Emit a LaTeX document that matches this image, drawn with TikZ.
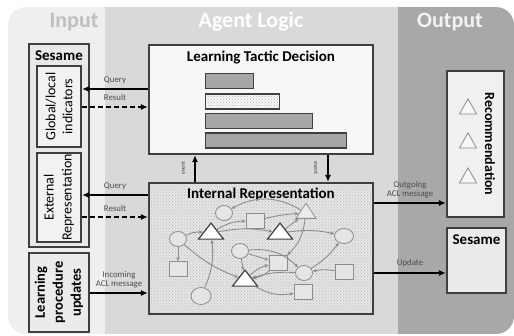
\documentclass[tikz,border=0pt]{standalone}
\usepackage{fontspec}
\setmainfont{Carlito}
\usetikzlibrary{arrows.meta,positioning,patterns,shapes.geometric}
\definecolor{inbg}{HTML}{EFEFEF}
\definecolor{agbg}{HTML}{D9D9D9}
\definecolor{outbg}{HTML}{A8A8A8}
\definecolor{edge}{HTML}{3F3F3F}
\definecolor{netgray}{HTML}{8C8C8C}

\begin{document}
\begin{tikzpicture}[x=1pt,y=-1pt,
  hdr/.style={font=\fontsize{22}{22}\selectfont\bfseries},
  box/.style={draw=edge,line width=2.2pt,inner sep=0pt,fill=#1},
  box/.default=black!8,
  ttl/.style={font=\fontsize{15}{15}\selectfont\bfseries},
  bar/.style={draw=edge,line width=1.4pt,fill=black!35,minimum height=15,
    inner sep=0pt,anchor=west},
  lbl/.style={font=\fontsize{8.8}{9}\selectfont,text=black!70,inner sep=0pt},
  evlbl/.style={font=\fontsize{6}{6}\selectfont,text=black!70,inner sep=0pt},
  flow/.style={line width=1.6pt,-{Latex[length=7pt,width=6pt]}},
  flowd/.style={flow,dash pattern=on 5pt off 3pt},
  netc/.style={ellipse,draw=netgray,line width=0.8pt,fill=black!10,
    minimum width=17,minimum height=15,inner sep=0pt},
  nets/.style={rectangle,draw=netgray,line width=0.8pt,fill=black!10,
    minimum width=18,minimum height=15,inner sep=0pt},
  nett/.style={isosceles triangle,isosceles triangle stretches,
    shape border rotate=90,draw=edge,line width=1.2pt,fill=white,
    minimum width=25,minimum height=16,inner sep=0pt},
  rect/.style={nett,draw=netgray,line width=0.8pt,fill=black!8,
    minimum width=20,minimum height=15},
  netarr/.style={draw=netgray,line width=0.9pt,
    -{Stealth[length=4pt,width=3.5pt]}}
]
\useasboundingbox (0,0) rectangle (514,335);

% three columns
\begin{scope}
\clip[rounded corners=18pt] (8,7) rectangle (514,334);
\fill[inbg] (8,7) rectangle (105,334);
\fill[agbg] (105,7) rectangle (398,334);
\fill[outbg] (398,7) rectangle (514,334);
\end{scope}
\node[hdr,text=black!25] (hin) at (74,22) {Input};
\node[hdr,text=white] (hag) at (251,22) {Agent Logic};
\node[hdr,text=black!5] (hout) at (450,22) {Output};

% input side
\node[box=black!9,minimum width=60,minimum height=203] (sesl) at (59,145.5) {};
\node[ttl] at (59,56) {Sesame};
\node[box=black!5,minimum width=44,minimum height=81] (glob) at (59,106.5) {};
\node[rotate=90,align=center,font=\fontsize{14}{17}\selectfont]
  at (glob) {Global/local\\indicators};
\node[box=black!5,minimum width=44,minimum height=89] (ext) at (59,197.5) {};
\node[rotate=90,align=center,font=\fontsize{14}{18}\selectfont]
  at (ext) {External\\Representation};
\node[box=black!8,minimum width=60,minimum height=79] (lpu) at (59,292.5) {};
\node[rotate=90,align=center,font=\fontsize{14.5}{18}\selectfont\bfseries]
  at (lpu) {Learning\\procedure\\updates};

% agent logic
\node[box=black!3,minimum width=224,minimum height=109] (ltd) at (261,99.5) {};
\node[ttl] at (261,57) {Learning Tactic Decision};
\node[bar,minimum width=48] (bar1) at (205,81) {};
\node[bar,minimum width=74,fill=black!10,pattern=crosshatch dots,
  pattern color=black!30] (bar2) at (205,101.5) {};
\node[bar,minimum width=107] (bar3) at (205,121) {};
\node[bar,minimum width=141] (bar4) at (205,140.5) {};

\node[box,preaction={fill=black!10},pattern=crosshatch dots,
  pattern color=black!28,minimum width=224,minimum height=131] (irep) at (261,248.5) {};
\node[ttl] at (261,194) {Internal Representation};

% network inside
\node[netc] (c1) at (224,213) {};
\node[netc] (c2) at (178,239) {};
\node[netc] (c3) at (240,251) {};
\node[netc,minimum width=19] (c4) at (344,236) {};
\node[netc] (c5) at (304,273) {};
\node[netc,minimum width=20,minimum height=17] (c6) at (201,296) {};
\node[nets] (s1) at (255,221) {};
\node[nets] (s2) at (178,269) {};
\node[nets] (s3) at (278,263) {};
\node[nets] (s4) at (344,272) {};
\node[nets] (s5) at (303,292) {};
\node[nett] (t1) at (211,233) {};
\node[nett] (t2) at (280,233) {};
\node[nett] (t3) at (245,280) {};
\node[rect] (t4) at (306,213) {};
\draw[netarr] (t4) to[bend right=30] (c1);
\draw[netarr] (s1) to[bend left=5] (t4);
\draw[netarr] (t1) to[bend left=15] (s1);
\draw[netarr] (t1) to[bend left=10] (t2);
\draw[netarr] (c2) to[bend left=15] (t1);
\draw[netarr] (c2) -- (s2);
\draw[netarr] (c2) to[bend right=10] (t3);
\draw[netarr] (c6) to[bend right=15] (t1);
\draw[netarr] (t2) -- (t4);
\draw[netarr] (t2) to[bend left=10] (c4);
\draw[netarr] (c3) -- (s3);
\draw[netarr] (c3) -- (t3);
\draw[netarr] (s3) to[bend left=15] (t3);
\draw[netarr] (t3) to[bend left=15] (s3);
\draw[netarr] (c3) to[bend left=25] (c5);
\draw[netarr] (s4) to[bend right=10] (c5);
\draw[netarr] (c5) to[bend right=10] (c4);
\draw[netarr] (c5) to[bend right=10] (t3);
\draw[netarr] (t3) to[bend right=20] (s5);
\draw[netarr] (t4) to[bend left=20] (s3);

% events
\draw[flow] (irep.north -| 195,0) -- (ltd.south -| 195,0);
\draw[flow] (ltd.south -| 328,0) -- (irep.north -| 328,0);
\node[evlbl,rotate=90] at (183,168) {event};
\node[evlbl,rotate=-90] at (316,168) {event};

% output side
\node[box=black!6,minimum width=57,minimum height=146] (rec) at (475.5,144) {};
\node[rotate=-90,font=\fontsize{14}{14}\selectfont\bfseries] at (490,144) {Recommendation};
\foreach \y in {109,143,178}
  \node[rect,fill=black!3,minimum width=17,minimum height=15] at (468,\y) {};
\node[box=black!8,minimum width=59,minimum height=65] (sesr) at (476.5,260.5) {};
\node[ttl] at (476.5,240) {Sesame};

% flows between columns
\draw[flow] (ltd.west |- 0,89) -- (glob.east |- 0,89);
\draw[flowd] (glob.east |- 0,107) -- (ltd.west |- 0,107);
\node[lbl] at (115,80) {Query};
\node[lbl] at (115,97) {Result};
\draw[flow] (irep.west |- 0,195) -- (ext.east |- 0,195);
\draw[flowd] (ext.east |- 0,217) -- (irep.west |- 0,217);
\node[lbl] at (115,186) {Query};
\node[lbl] at (115,208) {Result};
\draw[flow] (lpu.east |- 0,293) -- (irep.west |- 0,293);
\node[lbl] at (119,275) {Incoming};
\node[lbl] at (119,284) {ACL message};
\draw[flow] (irep.east |- 0,203) -- (rec.west |- 0,203);
\node[lbl] at (410,185) {Outgoing};
\node[lbl] at (410,194) {ACL message};
\draw[flow] (irep.east |- 0,273) -- (sesr.west |- 0,273);
\node[lbl] at (410,263) {Update};
\end{tikzpicture}
\end{document}
